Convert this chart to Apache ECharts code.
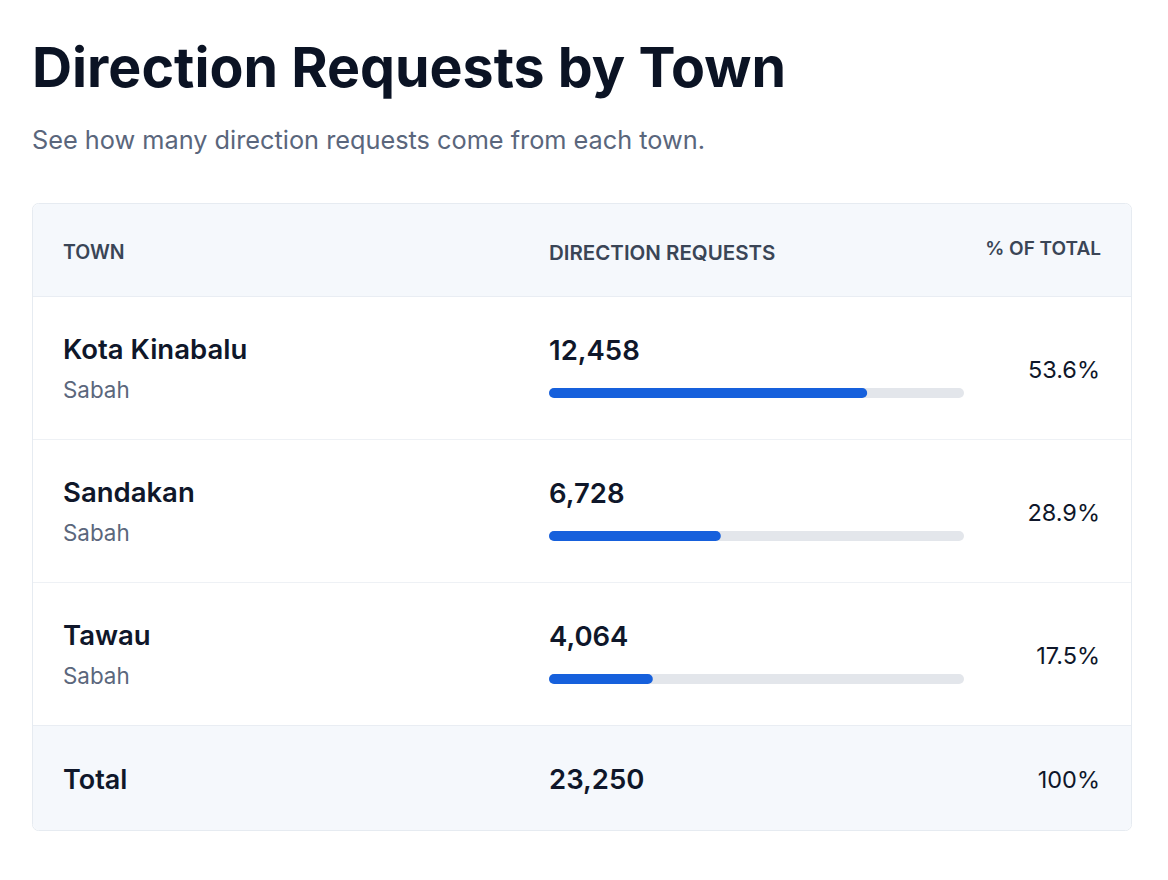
<!DOCTYPE html>
<html>
<head>
    <meta charset="utf-8">
    <title>Direction Requests by Town</title>
    <script src="https://cdn.jsdelivr.net/npm/echarts@6/dist/echarts.min.js"></script>
    <style>
        html, body { margin: 0; padding: 0; background: #ffffff; }
        #main { width: 1168px; height: 880px; }
    </style>
</head>
<body>
<div id="main"></div>
<script type="text/javascript">
    // data
    var towns = ['Kota Kinabalu', 'Sandakan', 'Tawau'];
    var states = ['Sabah', 'Sabah', 'Sabah'];
    var requests = [12458, 6728, 4064];
    var shares = ['53.6%', '28.9%', '17.5%'];
    var totalRequests = '23,250';
    var totalShare = '100%';
    var headers = ['TOWN', 'DIRECTION REQUESTS', '% OF TOTAL'];

    var FONT = 'Inter, "Noto Sans", sans-serif';
    var myChart = echarts.init(document.getElementById('main'), null, {renderer: 'svg'});

    var option = {
        backgroundColor: '#ffffff',
        animation: false,
        grid: {left: 549, right: 204, top: 321.5, bottom: 129.5},
        xAxis: {
            type: 'value',
            min: 0,
            max: 16250,
            show: false
        },
        yAxis: {
            type: 'category',
            data: towns,
            inverse: true,
            show: false
        },
        series: [{
            type: 'bar',
            data: requests,
            barWidth: 10,
            showBackground: true,
            backgroundStyle: {color: '#e3e6eb', borderRadius: 5},
            itemStyle: {color: '#1660dc', borderRadius: 5},
            label: {
                show: true,
                position: [0, -38],
                align: 'left',
                verticalAlign: 'middle',
                fontFamily: FONT,
                fontSize: 27.5,
                fontWeight: 600,
                color: '#0f172a',
                formatter: function (p) { return p.value.toLocaleString('en-US'); }
            }
        }]
    };
    myChart.setOption(option);

    // table chrome and row texts, rows placed from the category scale
    var g = [
        {type: 'text', left: 32, top: 38, style: {text: 'Direction Requests by Town', fontFamily: FONT, fontSize: 55.5, fontWeight: 700, fill: '#0b1324'}},
        {type: 'text', left: 32, top: 127, style: {text: 'See how many direction requests come from each town.', fontFamily: FONT, fontSize: 25.3, fill: '#5a667c'}},
        {type: 'rect', shape: {x: 32.5, y: 203.5, width: 1099, height: 627, r: 6}, style: {fill: '#ffffff', stroke: '#e6ebf1', lineWidth: 1}, z: -10},
        {type: 'rect', shape: {x: 33, y: 204, width: 1098, height: 92, r: [6, 6, 0, 0]}, style: {fill: '#f5f8fc'}, z: -9},
        {type: 'rect', shape: {x: 33, y: 725, width: 1098, height: 105, r: [0, 0, 6, 6]}, style: {fill: '#f5f8fc'}, z: -9},
        {type: 'text', x: 63, y: 252, style: {text: headers[0], fontFamily: FONT, fontSize: 19.5, fontWeight: 600, fill: '#3a4556', textVerticalAlign: 'middle'}},
        {type: 'text', x: 549, y: 252, style: {text: headers[1], fontFamily: FONT, fontSize: 20.5, fontWeight: 600, fill: '#3a4556', textVerticalAlign: 'middle'}},
        {type: 'text', x: 1101, y: 248, style: {text: headers[2], fontFamily: FONT, fontSize: 19, fontWeight: 600, fill: '#3a4556', textAlign: 'right', textVerticalAlign: 'middle'}},
        {type: 'line', shape: {x1: 33, y1: 296.5, x2: 1131, y2: 296.5}, style: {stroke: '#e9edf3', lineWidth: 1}},
        {type: 'line', shape: {x1: 33, y1: 725.5, x2: 1131, y2: 725.5}, style: {stroke: '#e9edf3', lineWidth: 1}},
        {type: 'text', x: 63, y: 779, style: {text: 'Total', fontFamily: FONT, fontSize: 27, fontWeight: 600, fill: '#0f172a', textVerticalAlign: 'middle'}},
        {type: 'text', x: 549, y: 779, style: {text: totalRequests, fontFamily: FONT, fontSize: 27.5, fontWeight: 600, fill: '#0f172a', textVerticalAlign: 'middle'}},
        {type: 'text', x: 1100, y: 779, style: {text: totalShare, fontFamily: FONT, fontSize: 23.5, fill: '#0f172a', textAlign: 'right', textVerticalAlign: 'middle'}}
    ];
    towns.forEach(function (t, i) {
        var cy = myChart.convertToPixel({gridIndex: 0}, [0, t])[1];
        g.push({type: 'text', x: 63, y: cy - 44, style: {text: t, fontFamily: FONT, fontSize: 27.5, fontWeight: 600, fill: '#0f172a', textVerticalAlign: 'middle'}});
        g.push({type: 'text', x: 63, y: cy - 4, style: {text: states[i], fontFamily: FONT, fontSize: 22.4, fill: '#5b677c', textVerticalAlign: 'middle'}});
        g.push({type: 'text', x: 1100, y: cy - 24, style: {text: shares[i], fontFamily: FONT, fontSize: 23.5, fill: '#0f172a', textAlign: 'right', textVerticalAlign: 'middle'}});
        if (i < towns.length - 1) {
            var ly = Math.round(cy + 46) + 0.5;
            g.push({type: 'line', shape: {x1: 33, y1: ly, x2: 1131, y2: ly}, style: {stroke: '#eef1f5', lineWidth: 1}});
        }
    });
    myChart.setOption({graphic: g});
</script>
</body>
</html>
